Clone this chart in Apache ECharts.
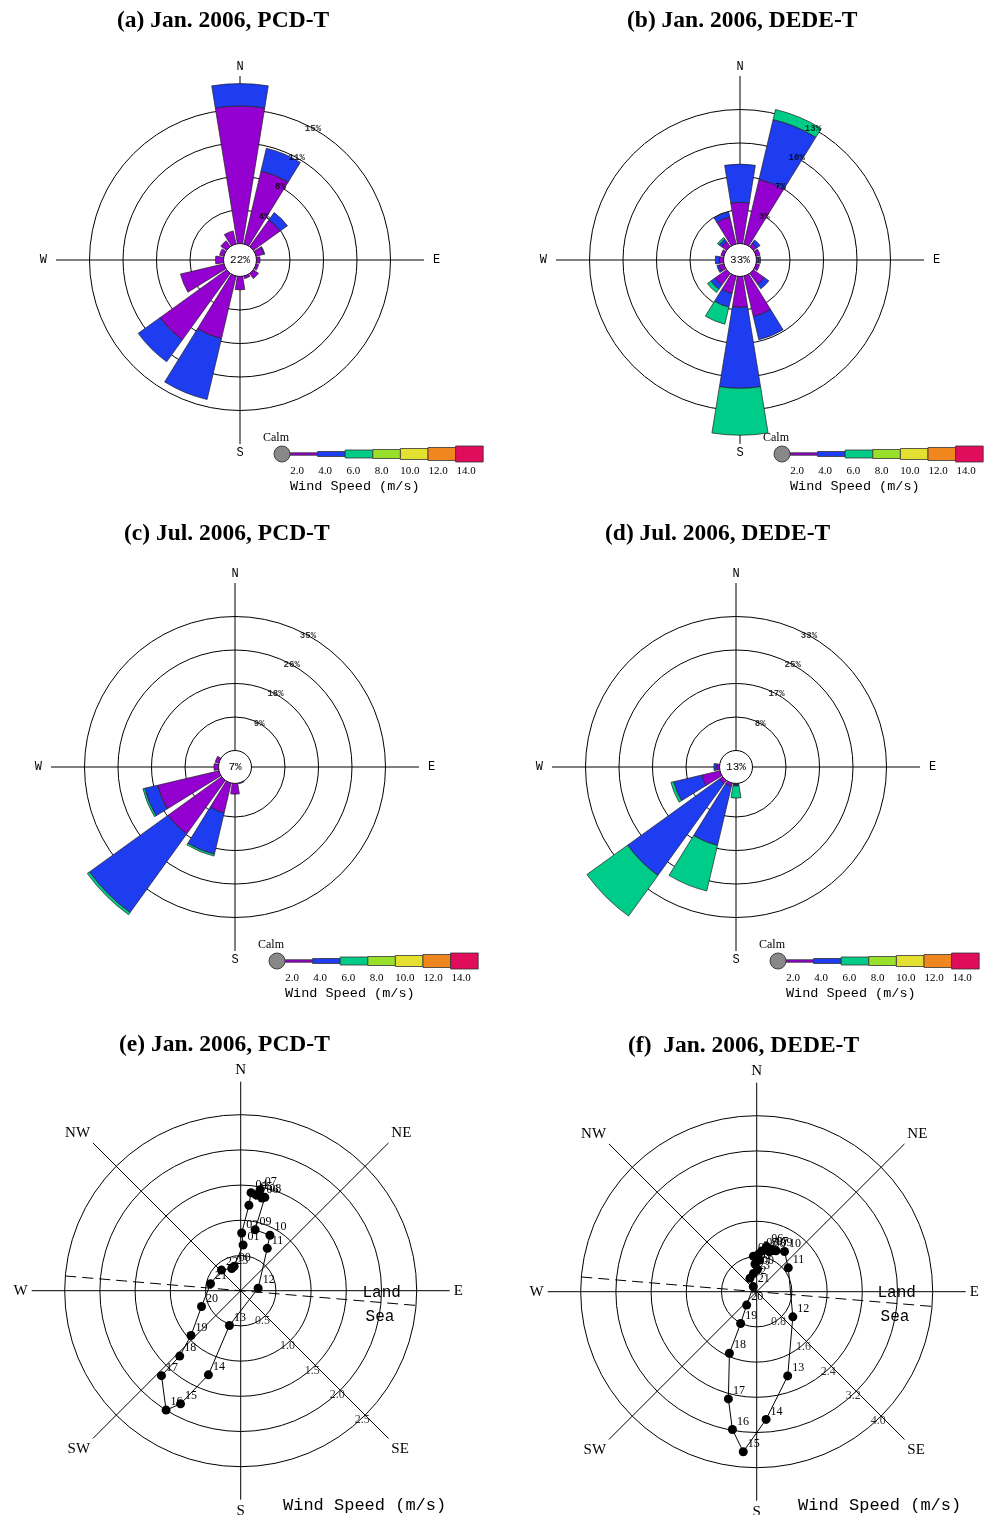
<!DOCTYPE html>
<html>
<head>
<meta charset="utf-8">
<script src="https://cdn.jsdelivr.net/npm/echarts@6/dist/echarts.min.js"></script>
<style>
html,body{margin:0;padding:0;background:#fff;}
#chart{width:984px;height:1515px;}
</style>
</head>
<body>
<div id="chart"></div>
<script>
// ---- shared categories ----
const DIRS = ['N','NNE','NE','ENE','E','ESE','SE','SSE','S','SSW','SW','WSW','W','WNW','NW','NNW'];
const SPEED_TICKS = ['2.0','4.0','6.0','8.0','10.0','12.0','14.0'];
const SPEED_COLORS = ['#9400d0','#1e3cf0','#00cc8a','#98e02c','#e4e032','#f0861e','#e00c5c'];
const CARDINAL = ['N','E','S','W'];
const COMPASS8 = ['N','NE','E','SE','S','SW','W','NW'];

// ---- (a) Jan. 2006, PCD-T : frequency (%) per direction, speed classes 0.5-2, 2-4, 4-6 m/s ----
const JAN_PCD_CALM = '22%';
const JAN_PCD_STEP = 3.75;
const JAN_PCD_RING_LABELS = ['4%','8%','11%','15%'];
const JAN_PCD_S1 = [15.4, 8.4, 3.7, 0.9, 0.4, 0.3, 0.7, 0.3, 1.5, 7.2, 9.2, 5.0, 0.9, 0.5, 0.8, 1.5];
const JAN_PCD_S2 = [ 2.5, 2.6, 1.0, 0.1, 0,   0,   0,   0,   0,   7.0, 3.0, 0,   0,   0,   0,   0  ];
const JAN_PCD_S3 = [ 0,   0,   0,   0,   0,   0,   0,   0,   0,   0,   0,   0,   0,   0,   0,   0  ];

// ---- (b) Jan. 2006, DEDE-T ----
const JAN_DEDE_CALM = '33%';
const JAN_DEDE_STEP = 3.25;
const JAN_DEDE_RING_LABELS = ['3%','7%','10%','13%'];
const JAN_DEDE_S1 = [4.0, 6.45, 0.4, 0.4, 0.2, 0.35, 1.3, 4.05, 3.0, 1.75, 1.4, 0.5, 0.4, 0.3, 0.6, 2.7];
const JAN_DEDE_S2 = [3.7, 5.95, 0.4, 0,   0.2, 0,    0.55, 2.3, 7.85, 1.35, 0.5, 0.2, 0.4, 0,   0.3, 0.5];
const JAN_DEDE_S3 = [0,   1.0,  0,   0,   0,   0,    0,    0,   4.55, 1.7,  0.4, 0,   0,   0,   0.2, 0  ];

// ---- (c) Jul. 2006, PCD-T ----
const JUL_PCD_CALM = '7%';
const JUL_PCD_STEP = 8.75;
const JUL_PCD_RING_LABELS = ['9%','18%','26%','35%'];
const JUL_PCD_S1 = [0, 0, 0, 0, 0, 0, 0, 0.2, 2.8, 8.0, 17.25, 16.5, 1.2, 1.0, 0, 0];
const JUL_PCD_S2 = [0, 0, 0, 0, 0, 0, 0, 0,   0,   11.1, 25.3, 3.4,  0,   0,   0, 0];
const JUL_PCD_S3 = [0, 0, 0, 0, 0, 0, 0, 0,   0,   0.5,  0.7,  0.5,  0,   0,   0, 0];

// ---- (d) Jul. 2006, DEDE-T ----
const JUL_DEDE_CALM = '13%';
const JUL_DEDE_STEP = 8.25;
const JUL_DEDE_RING_LABELS = ['8%','17%','25%','33%'];
const JUL_DEDE_S1 = [0, 0, 0, 0, 0, 0, 0, 0, 0.3, 0.8,  1.0,   4.6, 0.7, 0, 0, 0];
const JUL_DEDE_S2 = [0, 0, 0, 0, 0, 0, 0, 0, 0.3, 15.0, 27.85, 7.1, 0.7, 0, 0, 0];
const JUL_DEDE_S3 = [0, 0, 0, 0, 0, 0, 0, 0, 3.0, 11.5, 12.35, 0.7, 0,   0, 0, 0];

// ---- (e)/(f) hourly mean wind vectors, Jan. 2006 ----
const HOURS = ['00','01','02','03','04','05','06','07','08','09','10','11',
               '12','13','14','15','16','17','18','19','20','21','22','23'];
// speed (m/s) and direction (deg from N, clockwise)
const PCD_SPEED = [0.36, 0.65, 0.82, 1.22, 1.40, 1.38, 1.35, 1.46, 1.37, 0.89, 0.89, 0.71,
                   0.25, 0.52, 1.28, 1.82, 2.00, 1.65, 1.27, 0.95, 0.60, 0.44, 0.40, 0.34];
const PCD_DIR   = [345, 3, 1, 5.5, 6, 9, 12.9, 10.9, 14.5, 13.3, 27.8, 32.1,
                   82, 198, 201, 208, 212, 223, 223, 228, 248, 283, 317, 338];
const PCD_RINGS = [0.5, 1.0, 1.5, 2.0, 2.5];
const PCD_RING_LABELS = ['0.5','1.0','1.5','2.0','2.5'];
const PCD_COAST = [[2.5, 274.8], [2.5, 94.8]];

const DEDE_SPEED = [0.51, 0.63, 0.72, 0.81, 0.85, 0.93, 1.05, 1.02, 0.95, 1.03, 1.11, 0.90,
                    1.00, 2.04, 2.91, 3.65, 3.18, 2.52, 1.53, 0.81, 0.38, 0.14, 0.34, 0.42];
const DEDE_DIR   = [2, 356.5, 5, 354.7, 2.6, 7, 12.5, 19.5, 17.6, 25.2, 34.7, 52.9,
                    124.8, 159.8, 175.8, 184.8, 190, 194.8, 203.9, 206.8, 216.9, 326, 333, 350];
const DEDE_RINGS = [0.8, 1.6, 2.4, 3.2, 4.0];
const DEDE_RING_LABELS = ['0.8','1.6','2.4','3.2','4.0'];
const DEDE_COAST = [[4.0, 274.8], [4.0, 94.8]];

// ---- drawing ----
const MONO = 'Liberation Mono';
const SERIF = 'Liberation Serif';
const ROSE_R0 = 16.5, RING_PX = 33.5;
const LEGEND_H = [2.5, 5, 8, 9, 11, 13, 16];

const polar = [], angleAxis = [], radiusAxis = [], series = [], graphic = [];
const hidden = {axisLine:{show:false}, axisTick:{show:false}, axisLabel:{show:false}, splitLine:{show:false}, splitArea:{show:false}};

function text(x, y, s, font, align, vAlign) {
  graphic.push({type:'text', x:x, y:y, silent:true,
    style:{text:s, font:font, fill:'#000',
           textAlign:align||'center', textVerticalAlign:vAlign||'middle',
           align:align||'center', verticalAlign:vAlign||'middle'}});
}

function speedLegend(lx, ly) {
  const segW = 27.6, x0 = lx + 8;
  SPEED_COLORS.forEach((c, i) => {
    const h = LEGEND_H[i];
    graphic.push({type:'rect', silent:true, shape:{x:x0 + i*segW, y:ly - h/2, width:segW, height:h},
                  style:{fill:c, stroke:'#333', lineWidth:0.8}});
    text(lx + 15 + 28.2*i, ly + 17, SPEED_TICKS[i], '11px "' + SERIF + '"');
  });
  graphic.push({type:'circle', silent:true, shape:{cx:lx, cy:ly, r:8}, style:{fill:'#888', stroke:'#444', lineWidth:1}});
  text(lx - 6, ly - 16, 'Calm', '12px "' + SERIF + '"');
  text(lx + 8, ly + 32, 'Wind Speed (m/s)', '13.5px "' + MONO + '"', 'left');
}

function windRose(key, center, step, ringLabels, calm, bins) {
  const outer = ROSE_R0 + 5*RING_PX;
  const iBar = polar.length;
  polar.push({center:center, radius:[ROSE_R0, outer]});
  angleAxis.push(Object.assign({polarIndex:iBar, type:'category', data:DIRS,
    startAngle:90 + 180/DIRS.length, clockwise:true, boundaryGap:true}, hidden));
  radiusAxis.push(Object.assign({polarIndex:iBar, type:'value', min:0, max:5*step}, hidden));

  const iFrame = polar.length;
  polar.push({center:center, radius:[ROSE_R0, outer]});
  angleAxis.push({polarIndex:iFrame, type:'value', min:0, max:360, interval:90, startAngle:90, clockwise:true,
    axisLine:{show:false}, axisTick:{show:false},
    axisLabel:{margin:3, fontFamily:MONO, fontSize:12, color:'#000',
      formatter:v => {
        const s = CARDINAL[v/90] || '';
        return (s === 'E' || s === 'W') ? '{h|' + s + '}' : s;
      },
      rich:{h:{fontFamily:MONO, fontSize:12, color:'#000', padding:[0, 6, 0, 6]}}},
    splitLine:{show:true, lineStyle:{color:'#000', width:1}}, splitArea:{show:false}});
  radiusAxis.push({polarIndex:iFrame, type:'value', min:0, max:5*step, interval:step,
    axisLine:{show:false}, axisTick:{show:false}, axisLabel:{show:false},
    splitLine:{show:true, lineStyle:{color:['#000','#000','#000','#000','#000','rgba(0,0,0,0)'], width:1}}});

  bins.forEach((vals, k) => series.push({
    type:'bar', coordinateSystem:'polar', polarIndex:iBar, stack:'rose-' + key,
    barCategoryGap:'18%', silent:true,
    data:vals.map(v => v > 0 ? v : '-'),
    itemStyle:{color:SPEED_COLORS[k], borderColor:'#222', borderWidth:0.7}
  }));

  series.push({type:'scatter', coordinateSystem:'polar', polarIndex:iFrame, silent:true,
    symbolSize:1, itemStyle:{color:'rgba(0,0,0,0)'},
    data:ringLabels.map((s, i) => [(i + 1)*step, 29]),
    label:{show:true, position:'inside', formatter:q => ringLabels[q.dataIndex],
           fontFamily:MONO, fontSize:9, fontWeight:'bold', color:'#000'}});

  text(center[0], center[1], calm, '11px "' + MONO + '"');
  speedLegend(center[0] + 42, center[1] + 194);
}

function hodograph(center, max, step, rings, ringLabels, speed, dir, coast) {
  const iFrame = polar.length;
  polar.push({center:center, radius:[0, 209]});
  angleAxis.push({polarIndex:iFrame, type:'value', min:0, max:360, interval:45, startAngle:90, clockwise:true,
    axisLine:{show:false}, axisTick:{show:false},
    axisLabel:{margin:4, formatter:v => COMPASS8[v/45] || '', fontFamily:SERIF, fontSize:15, color:'#000'},
    splitLine:{show:true, lineStyle:{color:'#000', width:1}}, splitArea:{show:false}});
  radiusAxis.push(Object.assign({polarIndex:iFrame, type:'value', min:0, max:1}, hidden));

  const iData = polar.length;
  polar.push({center:center, radius:[0, 176]});
  angleAxis.push(Object.assign({polarIndex:iData, type:'value', min:0, max:360, startAngle:90, clockwise:true}, hidden));
  radiusAxis.push({polarIndex:iData, type:'value', min:0, max:max, interval:step,
    axisLine:{show:false}, axisTick:{show:false}, axisLabel:{show:false},
    splitLine:{show:true, lineStyle:{color:'#000', width:1}}});

  // land / sea boundary
  series.push({type:'line', coordinateSystem:'polar', polarIndex:iData, silent:true, symbol:'none',
    data:coast, lineStyle:{color:'#000', width:1, type:[11, 6]}});

  // speed ring labels along the SE spoke
  series.push({type:'scatter', coordinateSystem:'polar', polarIndex:iData, silent:true,
    symbolSize:1, itemStyle:{color:'rgba(0,0,0,0)'},
    data:rings.map(r => [r, 135]),
    label:{show:true, position:'inside', offset:[-3, 5], formatter:q => ringLabels[q.dataIndex],
           fontFamily:SERIF, fontSize:12, color:'#000'}});

  // hourly wind vectors
  series.push({type:'line', coordinateSystem:'polar', polarIndex:iData, silent:true,
    data:HOURS.map((h, i) => [speed[i], dir[i]]),
    symbol:'circle', symbolSize:9, itemStyle:{color:'#000'},
    lineStyle:{color:'#000', width:1},
    label:{show:true, position:'right', distance:0, offset:[0, -8],
           formatter:q => HOURS[q.dataIndex], fontFamily:SERIF, fontSize:12, color:'#000'}});
}

windRose('a', [240, 260], JAN_PCD_STEP, JAN_PCD_RING_LABELS, JAN_PCD_CALM, [JAN_PCD_S1, JAN_PCD_S2, JAN_PCD_S3]);
windRose('b', [740, 260], JAN_DEDE_STEP, JAN_DEDE_RING_LABELS, JAN_DEDE_CALM, [JAN_DEDE_S1, JAN_DEDE_S2, JAN_DEDE_S3]);
windRose('c', [235, 767], JUL_PCD_STEP, JUL_PCD_RING_LABELS, JUL_PCD_CALM, [JUL_PCD_S1, JUL_PCD_S2, JUL_PCD_S3]);
windRose('d', [736, 767], JUL_DEDE_STEP, JUL_DEDE_RING_LABELS, JUL_DEDE_CALM, [JUL_DEDE_S1, JUL_DEDE_S2, JUL_DEDE_S3]);
hodograph([240.7, 1290.7], 2.5, 0.5, PCD_RINGS, PCD_RING_LABELS, PCD_SPEED, PCD_DIR, PCD_COAST);
hodograph([756.7, 1291.7], 4.0, 0.8, DEDE_RINGS, DEDE_RING_LABELS, DEDE_SPEED, DEDE_DIR, DEDE_COAST);

// titles
const TITLE_FONT = 'bold 23.5px "' + SERIF + '"';
text(117, 21, '(a) Jan. 2006, PCD-T', TITLE_FONT, 'left');
text(627, 21, '(b) Jan. 2006, DEDE-T', TITLE_FONT, 'left');
text(124, 534, '(c) Jul. 2006, PCD-T', TITLE_FONT, 'left');
text(605, 534, '(d) Jul. 2006, DEDE-T', TITLE_FONT, 'left');
text(119, 1045, '(e) Jan. 2006, PCD-T', TITLE_FONT, 'left');
text(628, 1046, '(f)  Jan. 2006, DEDE-T', TITLE_FONT, 'left');

// hodograph annotations
const ANNOT_FONT = '16px "' + MONO + '"';
text(381.7, 1293, 'Land', ANNOT_FONT);
text(380, 1317, 'Sea', ANNOT_FONT);
text(896.7, 1293, 'Land', ANNOT_FONT);
text(895, 1317, 'Sea', ANNOT_FONT);
text(283, 1505, 'Wind Speed (m/s)', '17px "' + MONO + '"', 'left');
text(798, 1505, 'Wind Speed (m/s)', '17px "' + MONO + '"', 'left');

const chart = echarts.init(document.getElementById('chart'), null, {renderer:'canvas'});
chart.setOption({
  backgroundColor:'#fff',
  animation:false,
  polar:polar,
  angleAxis:angleAxis,
  radiusAxis:radiusAxis,
  series:series,
  graphic:graphic
});
</script>
</body>
</html>
